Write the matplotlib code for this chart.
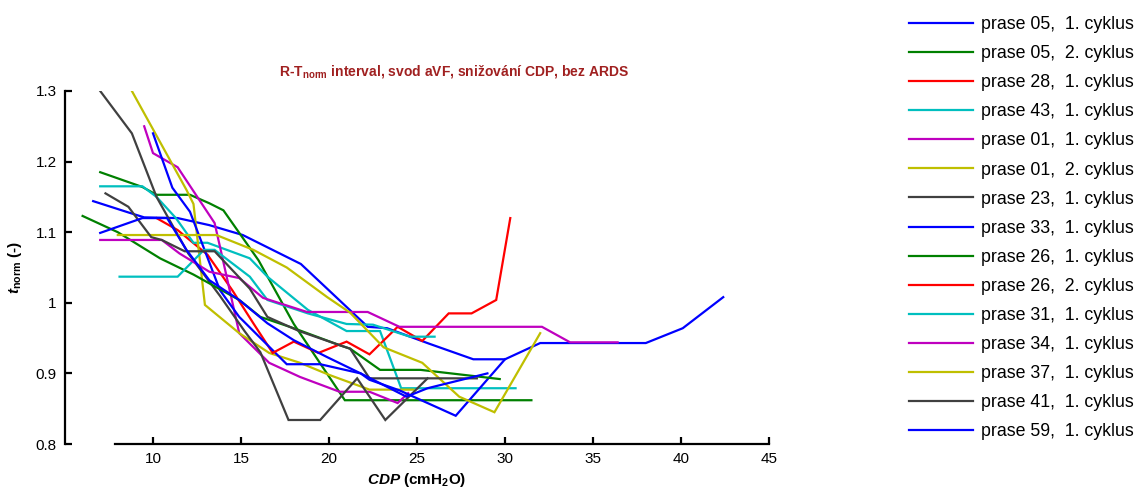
import matplotlib
matplotlib.use("Agg")
import matplotlib.pyplot as plt

plt.rcParams['font.family'] = ['Liberation Sans', 'DejaVu Sans']
plt.rcParams['mathtext.fontset'] = 'custom'
plt.rcParams['mathtext.rm'] = 'Liberation Sans:bold'
plt.rcParams['mathtext.it'] = 'Liberation Sans:bold:italic'
plt.rcParams['mathtext.bf'] = 'Liberation Sans:bold'

# CDP (cmH2O) and normalised R-T interval for every animal / cycle
cdp_p05_1 = [6.6, 8.6, 9.5, 11.4, 13.2, 15.1, 18.4, 22.2, 23.3, 25.7, 28.2, 30.0, 32.0, 38.0, 40.1, 42.4]
t_p05_1 = [1.144, 1.128, 1.121, 1.120, 1.110, 1.096, 1.055, 0.966, 0.964, 0.942, 0.920, 0.920, 0.943, 0.943, 0.964, 1.008]

cdp_p05_2 = [7.0, 9.4, 10.2, 12.1, 13.2, 14.0, 16.0, 18.0, 20.9, 31.5]
t_p05_2 = [1.185, 1.164, 1.153, 1.153, 1.141, 1.131, 1.060, 0.970, 0.862, 0.862]

cdp_p28_1 = [10.2, 11.4, 13.1, 14.5, 15.7, 16.8]
t_p28_1 = [1.120, 1.103, 1.068, 1.018, 0.971, 0.929]

cdp_p43_1 = [7.0, 9.4, 10.2, 11.3, 12.3, 13.1, 15.5, 16.5, 18.8, 21.0, 22.9, 24.1, 30.6]
t_p43_1 = [1.165, 1.165, 1.150, 1.120, 1.085, 1.085, 1.063, 1.037, 0.990, 0.960, 0.960, 0.879, 0.879]

cdp_p01_1 = [9.5, 10.0, 11.4, 13.5, 13.8, 14.9, 16.6, 18.35, 20.6, 22.3, 23.9, 24.5]
t_p01_1 = [1.250, 1.212, 1.192, 1.113, 1.080, 0.957, 0.915, 0.895, 0.874, 0.874, 0.858, 0.872]

cdp_p01_2 = [8.8, 11.9, 12.3, 12.95, 14.9, 16.6, 18.35, 20.0, 22.3, 24.8]
t_p01_2 = [1.300, 1.160, 1.140, 0.997, 0.957, 0.929, 0.915, 0.898, 0.877, 0.877]

cdp_p23_1 = [7.0, 8.8, 10.2, 12.0, 13.8, 15.2, 16.1, 17.7, 19.5, 21.6, 23.2, 25.6]
t_p23_1 = [1.300, 1.240, 1.150, 1.070, 1.010, 0.960, 0.930, 0.834, 0.834, 0.893, 0.834, 0.893]

cdp_p33_1 = [10.0, 11.1, 12.1, 13.8, 14.9, 17.6, 19.5, 21.8, 22.3, 24.0, 27.2, 30.0]
t_p33_1 = [1.240, 1.163, 1.129, 1.018, 0.980, 0.913, 0.913, 0.900, 0.891, 0.876, 0.840, 0.920]

cdp_p26_1 = [6.0, 8.0, 10.4, 12.3, 14.9, 16.1, 18.0, 20.6, 21.2, 22.9, 25.2, 29.7]
t_p26_1 = [1.123, 1.100, 1.063, 1.040, 1.004, 0.980, 0.964, 0.940, 0.935, 0.905, 0.905, 0.892]

cdp_p26_2 = [16.8, 18.0, 19.4, 21.0, 22.3, 23.9, 25.3, 26.8, 28.1, 29.5, 30.3]
t_p26_2 = [0.929, 0.945, 0.929, 0.945, 0.927, 0.966, 0.946, 0.985, 0.985, 1.004, 1.120]

cdp_p31_1 = [8.1, 11.4, 12.9, 13.5, 15.5, 16.5, 18.8, 21.0, 22.5, 24.6, 26.0]
t_p31_1 = [1.037, 1.037, 1.075, 1.075, 1.037, 1.004, 0.985, 0.970, 0.969, 0.952, 0.952]

cdp_p34_1 = [7.0, 10.5, 11.5, 13.2, 14.9, 16.25, 18.0, 18.75, 22.2, 24.0, 32.1, 33.7, 36.4]
t_p34_1 = [1.089, 1.089, 1.070, 1.044, 1.035, 1.007, 0.993, 0.987, 0.987, 0.966, 0.966, 0.944, 0.944]

cdp_p37_1 = [8.0, 13.6, 15.7, 17.6, 19.9, 21.2, 23.1, 25.3, 27.4, 29.4, 32.0]
t_p37_1 = [1.096, 1.096, 1.075, 1.050, 1.008, 0.986, 0.937, 0.915, 0.867, 0.845, 0.957]

cdp_p41_1 = [7.3, 8.6, 9.9, 10.5, 11.8, 13.5, 15.5, 16.5, 18.3, 20.6, 21.2, 22.3, 28.4]
t_p41_1 = [1.155, 1.136, 1.093, 1.089, 1.073, 1.073, 1.020, 0.980, 0.960, 0.940, 0.935, 0.893, 0.893]

cdp_p59_1 = [7.0, 9.4, 10.8, 11.9, 13.2, 14.9, 16.5, 18.0, 19.9, 21.8, 24.4, 25.6, 29.0]
t_p59_1 = [1.099, 1.120, 1.120, 1.075, 1.032, 1.004, 0.971, 0.947, 0.923, 0.900, 0.867, 0.879, 0.900]

labels = ['prase 05,  1. cyklus', 'prase 05,  2. cyklus', 'prase 28,  1. cyklus',
          'prase 43,  1. cyklus', 'prase 01,  1. cyklus', 'prase 01,  2. cyklus',
          'prase 23,  1. cyklus', 'prase 33,  1. cyklus', 'prase 26,  1. cyklus',
          'prase 26,  2. cyklus', 'prase 31,  1. cyklus', 'prase 34,  1. cyklus',
          'prase 37,  1. cyklus', 'prase 41,  1. cyklus', 'prase 59,  1. cyklus']

series = [(cdp_p05_1, t_p05_1), (cdp_p05_2, t_p05_2), (cdp_p28_1, t_p28_1),
          (cdp_p43_1, t_p43_1), (cdp_p01_1, t_p01_1), (cdp_p01_2, t_p01_2),
          (cdp_p23_1, t_p23_1), (cdp_p33_1, t_p33_1), (cdp_p26_1, t_p26_1),
          (cdp_p26_2, t_p26_2), (cdp_p31_1, t_p31_1), (cdp_p34_1, t_p34_1),
          (cdp_p37_1, t_p37_1), (cdp_p41_1, t_p41_1), (cdp_p59_1, t_p59_1)]

palette = ['#0000ff', '#008000', '#ff0000', '#00bfbf', '#bf00bf', '#bfbf00', '#404040']
colors = [palette[i % 7] for i in range(len(series))]

fig = plt.figure(figsize=(11.42, 4.9), dpi=100)
ax = fig.add_axes([65 / 1142, 46 / 490, 704 / 1142, 353 / 490])

handles = []
for (x, y), c, lab in zip(series, colors, labels):
    h, = ax.plot(x, y, color=c, lw=1.6, label=lab, solid_joinstyle='miter')
    handles.append(h)

ax.set_xlim(5, 45)
ax.set_ylim(0.8, 1.3)
ax.set_xticks([10, 15, 20, 25, 30, 35, 40, 45])
ax.set_yticks([0.8, 0.9, 1.0, 1.1, 1.2, 1.3])
ax.set_yticklabels(['0.8', '0.9', '1', '1.1', '1.2', '1.3'])
for s in ['top', 'right']:
    ax.spines[s].set_visible(False)
for s in ['left', 'bottom']:
    ax.spines[s].set_linewidth(1.6)
ax.spines['bottom'].set_bounds(7.85, 45)
ax.tick_params(direction='in', length=5, width=1.6, labelsize=11, pad=6)

ax.set_xlabel(r'$CDP$ (cmH$_{\mathregular{2}}$O)', fontsize=11, fontweight='bold', labelpad=3)
ax.set_ylabel(r'$t_{\mathrm{norm}}$ (-)', fontsize=11, fontweight='bold', labelpad=8)

fig.text(454 / 1142, 1 - 71 / 490, r'R-T$_{\mathrm{norm}}$ interval, svod aVF, snižování CDP, bez ARDS',
         ha='center', va='center', fontsize=10, fontweight='bold', color='#a02020')

fig.legend(handles=handles, loc='upper left', bbox_to_anchor=(902 / 1142, 1 - 9 / 490),
           frameon=False, fontsize=12.8, handlelength=3.6, handletextpad=0.45,
           labelspacing=0.68, borderaxespad=0)

fig.savefig('out.png', dpi=100)
